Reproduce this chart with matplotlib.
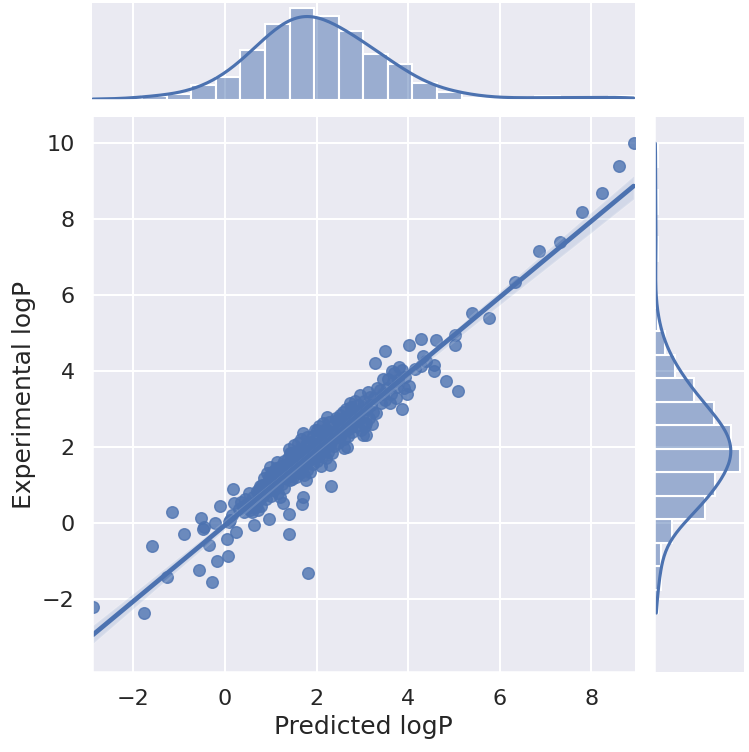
import numpy as np
import matplotlib
matplotlib.use("Agg")
import matplotlib.pyplot as plt
import seaborn as sns

# predicted vs experimental logP (dense core estimated)
pred_left = [-2.88, -1.77, -1.60, -1.26, -1.16, -0.90, -0.57, -0.52, -0.48, -0.45, -0.34, -0.28,
             -0.22, -0.17, -0.11, 0.04, 0.07, 0.09, 0.12, 0.15, 0.18, 0.21, 0.25]
exp_left = [-2.20, -2.37, -0.60, -1.43, 0.30, -0.29, -1.25, 0.14, -0.15, -0.10, -0.58, -1.55,
            0.00, -1.00, 0.45, -0.41, -0.86, 0.03, 0.08, 0.22, 0.90, 0.52, -0.25]

pred_core1 = [0.30, 0.35, 0.40, 0.42, 0.45, 0.48, 0.50, 0.52, 0.55, 0.58, 0.60, 0.62, 0.63, 0.66,
              0.69, 0.70, 0.72, 0.74, 0.75, 0.76, 0.78, 0.79,
              0.82, 0.84, 0.86, 0.88, 0.90, 0.91, 0.92, 0.94, 0.96, 0.97, 0.98, 0.99, 1.01, 1.03,
              1.05, 1.07, 1.09, 1.11, 1.13, 1.13, 1.15, 1.17, 1.19, 1.20, 1.22, 1.24, 1.26, 1.26,
              1.28, 1.30, 1.32, 1.34]
exp_core1 = [0.38, 0.55, 0.43, 0.30, 0.62, 0.50, 0.40, 0.78, 0.34, 0.45, 0.30, 0.68, -0.06, 0.52,
             0.43, 0.85, 0.35, 0.60, 0.90, 0.96, 0.75, 0.45,
             1.00, 0.72, 1.18, 0.90, 0.62, 1.31, 1.05, 0.85, 1.22, 0.11, 1.48, 0.95, 0.70, 1.35,
             1.08, 0.88, 1.20, 1.45, 1.61, 0.98, 1.28, 0.80, 1.12, 0.69, 1.50, 1.02, 1.30, 0.52,
             0.92, 1.62, 1.18, 1.40]

pred_core2 = [1.36, 1.37, 1.38, 1.39, 1.39, 1.40, 1.41, 1.42, 1.42, 1.43, 1.44, 1.45, 1.46, 1.48,
              1.49, 1.50, 1.52, 1.53, 1.55, 1.56, 1.57, 1.59, 1.60, 1.61, 1.63, 1.64, 1.65, 1.66,
              1.67, 1.68, 1.69, 1.70, 1.71, 1.71, 1.72, 1.73, 1.75, 1.76, 1.77, 1.78, 1.79, 1.80,
              1.81, 1.82, 1.84, 1.85, 1.87, 1.89]
exp_core2 = [1.55, 1.20, 1.72, 0.24, -0.29, 1.40, 1.95, 1.83, 1.13, 1.30, 1.60, 1.85, 1.15, 1.50,
             1.75, 2.05, 1.35, 1.62, 1.88, 1.22, 1.48, 2.10, 1.70, 1.38, 1.95, 1.31, 1.58, 1.80,
             2.20, 0.50, 1.45, 1.68, 0.69, 2.36, 1.92, 1.25, 1.55, 2.05, 1.78, 1.13, 1.40, 2.25,
             -1.31, 1.62, 1.90, 1.35, 2.12, 1.70]

pred_core3 = [1.91, 1.92, 1.93, 1.95, 1.96, 1.97, 1.98, 2.00, 2.00, 2.02, 2.03, 2.05, 2.06, 2.07,
              2.08, 2.09, 2.11, 2.12, 2.14, 2.15, 2.17, 2.18, 2.20, 2.21, 2.22, 2.23, 2.25, 2.26,
              2.28, 2.29, 2.30, 2.31, 2.32, 2.33, 2.35, 2.36, 2.37, 2.39, 2.41, 2.43]
exp_core3 = [1.85, 2.30, 1.55, 2.08, 1.72, 2.45, 1.95, 1.62, 2.45, 2.20, 1.88, 2.55, 1.75, 2.01,
             2.10, 1.50, 2.35, 1.98, 2.62, 1.80, 2.22, 1.95, 2.48, 1.70, 2.80, 2.10, 2.35, 1.88,
             2.65, 1.53, 2.05, 0.97, 2.40, 1.85, 2.20, 2.36, 2.58, 2.02, 2.30, 2.75]

pred_core4 = [2.44, 2.45, 2.47, 2.49, 2.51, 2.52, 2.54, 2.56, 2.58, 2.59, 2.61, 2.62, 2.64, 2.66,
              2.66, 2.67, 2.69, 2.71, 2.73, 2.74, 2.76, 2.78, 2.80, 2.81, 2.83, 2.85, 2.87, 2.89,
              2.91, 2.93, 2.95, 2.95, 2.97]
exp_core4 = [2.71, 2.40, 2.10, 2.62, 2.27, 2.85, 2.35, 2.55, 2.93, 2.20, 1.97, 2.75, 3.00, 2.45,
             2.01, 2.60, 2.30, 2.85, 3.16, 2.50, 3.05, 2.40, 2.71, 2.95, 2.65, 3.20, 2.55, 2.85,
             3.10, 2.70, 3.37, 2.95, 2.45]

pred_core5 = [3.00, 3.02, 3.02, 3.04, 3.06, 3.08, 3.09, 3.11, 3.13, 3.15, 3.17, 3.19, 3.22, 3.24,
              3.26, 3.28, 3.30, 3.33, 3.38, 3.41, 3.45, 3.46, 3.49, 3.49,
              3.54, 3.57, 3.60, 3.62, 3.64, 3.67, 3.70, 3.73, 3.75, 3.78, 3.81, 3.86, 3.86, 3.90,
              3.94, 3.98, 4.01, 4.02]
exp_core5 = [2.80, 3.06, 2.32, 3.20, 2.55, 2.31, 2.62, 3.00, 3.45, 2.75, 3.32, 3.10, 2.60, 2.93,
             3.30, 4.22, 2.90, 3.55, 3.50, 3.15, 3.40, 3.79, 4.52, 3.24,
             3.55, 3.80, 3.16, 3.40, 3.99, 3.70, 3.95, 3.30, 3.59, 3.75, 4.10, 4.03, 2.99, 3.55,
             3.85, 3.40, 4.68, 3.61]

pred_right = [4.15, 4.27, 4.29, 4.33, 4.40, 4.56, 4.56, 4.61, 4.83, 5.03, 5.03, 5.08,
              5.39, 5.77, 6.33, 6.85, 7.31, 7.79, 8.23, 8.61, 8.92]
exp_right = [4.05, 4.85, 4.13, 4.40, 4.25, 4.15, 4.01, 4.82, 3.74, 4.94, 4.68, 3.46,
             5.53, 5.38, 6.34, 7.15, 7.39, 8.17, 8.69, 9.39, 9.99]

x = np.array(pred_left + pred_core1 + pred_core2 + pred_core3 + pred_core4 + pred_core5 + pred_right)
y = np.array(exp_left + exp_core1 + exp_core2 + exp_core3 + exp_core4 + exp_core5 + exp_right)

sns.set_theme(context="talk", style="darkgrid")
plt.rcParams['font.family'] = ['DejaVu Sans']

g = sns.JointGrid(x=x, y=y, height=7.5)
sns.regplot(x=x, y=y, ax=g.ax_joint, scatter_kws={"s": 70})
sns.histplot(x=x, bins=22, kde=True, ax=g.ax_marg_x)
sns.histplot(y=y, bins=20, kde=True, ax=g.ax_marg_y)

fig = g.figure
fig.set_size_inches(7.49, 7.52)
g.ax_joint.set_position([0.1228, 0.1064, 0.7250, 0.7380])
g.ax_marg_x.set_position([0.1228, 0.8670, 0.7250, 0.1290])
g.ax_marg_y.set_position([0.8732, 0.1064, 0.1202, 0.7380])

g.ax_joint.set_xlim(-2.90, 8.95)
g.ax_joint.set_ylim(-3.92, 10.68)
g.ax_joint.set_xticks([-2, 0, 2, 4, 6, 8])
g.ax_joint.set_yticks([-2, 0, 2, 4, 6, 8, 10])
g.ax_joint.set_xlabel("Predicted logP", fontsize=18)
g.ax_joint.set_ylabel("Experimental logP", fontsize=18)
g.ax_joint.tick_params(labelsize=16)

fig.savefig("out.png", dpi=100)
